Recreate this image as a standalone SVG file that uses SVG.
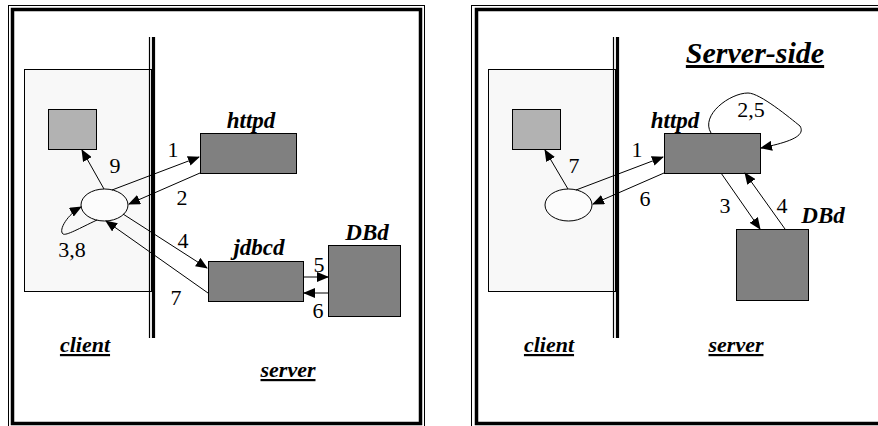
<svg xmlns="http://www.w3.org/2000/svg" width="878" height="426" viewBox="0 0 878 426">
<defs>
<marker id="ah" markerWidth="12" markerHeight="10" refX="11" refY="5" orient="auto" markerUnits="userSpaceOnUse">
<path d="M0,0 L12,5 L0,10 Z" fill="#000"/>
</marker>
<style>
.frameO{fill:none;stroke:#000;stroke-width:1}
.frameI{fill:none;stroke:#000;stroke-width:3.5}
.cl{fill:#f8f8f8;stroke:#000;stroke-width:1}
.sm{fill:#b2b2b2;stroke:#000;stroke-width:1}
.dk{fill:#808080;stroke:#000;stroke-width:1}
.el{fill:#fcfcfc;stroke:#000;stroke-width:1}
.ln{fill:none;stroke:#000;stroke-width:1;marker-end:url(#ah)}
text{font-family:'Liberation Serif','Times New Roman',serif;fill:#000}
.num{font-size:22px}
.lab{font-size:23px;font-weight:bold;font-style:italic}
.ul{font-size:22px;font-weight:bold;font-style:italic;text-decoration:underline}
.title{font-size:30px;font-weight:bold;font-style:italic;text-decoration:underline}
</style>
</defs>
<rect width="878" height="426" fill="#fff"/>

<!-- Left panel -->
<g id="left-frame">
<rect class="frameO" x="8.5" y="5.5" width="416" height="425"/>
<rect class="frameI" x="12.5" y="9.5" width="408" height="414"/>
</g>
<g id="left-client-area">
<rect class="cl" x="24.5" y="69.5" width="127" height="222"/>
</g>
<g id="left-divider">
<line x1="149.5" y1="37" x2="149.5" y2="338" stroke="#000" stroke-width="1.2"/>
<line x1="153.5" y1="37" x2="153.5" y2="338" stroke="#000" stroke-width="3.2"/>
</g>
<g id="left-display"><rect class="sm" x="48.5" y="109.5" width="48" height="40"/></g>
<g id="left-browser"><ellipse class="el" cx="104.5" cy="205" rx="23.5" ry="16"/></g>
<g id="left-httpd"><rect class="dk" x="200.5" y="133.5" width="96" height="40"/><text class="lab" x="251" y="128" text-anchor="middle">httpd</text></g>
<g id="left-jdbcd"><rect class="dk" x="208.5" y="261.5" width="95" height="40"/><text class="lab" x="259" y="255" text-anchor="middle">jdbcd</text></g>
<g id="left-dbd"><rect class="dk" x="328.5" y="245.5" width="72" height="71"/><text class="lab" x="367" y="240" text-anchor="middle">DBd</text></g>
<g id="left-labels">
<text class="ul" x="85" y="352" text-anchor="middle">client</text>
<text class="ul" x="288" y="377" text-anchor="middle">server</text>
</g>
<g id="left-connectors">
<line class="ln" x1="104" y1="189" x2="82" y2="150"/>
<line class="ln" x1="112" y1="190" x2="199" y2="157"/>
<line class="ln" x1="200" y1="173" x2="129" y2="204"/>
<line class="ln" x1="123" y1="214" x2="207" y2="268"/>
<line class="ln" x1="208" y1="293" x2="106" y2="221"/>
<path class="ln" d="M97,220 C80,228 66,236 63,234 C58,230 68,214 81,207"/>
<line class="ln" x1="304" y1="277" x2="328" y2="277"/>
<line class="ln" x1="328" y1="293" x2="304" y2="293"/>
<text class="num" x="115" y="173" text-anchor="middle">9</text>
<text class="num" x="173" y="157" text-anchor="middle">1</text>
<text class="num" x="182" y="205" text-anchor="middle">2</text>
<text class="num" x="183" y="248" text-anchor="middle">4</text>
<text class="num" x="176" y="305" text-anchor="middle">7</text>
<text class="num" x="72" y="257" text-anchor="middle">3,8</text>
<text class="num" x="319" y="272" text-anchor="middle">5</text>
<text class="num" x="318" y="318" text-anchor="middle">6</text>
</g>

<!-- Right panel -->
<g id="right-frame">
<rect class="frameO" x="471.5" y="5.5" width="420" height="425"/>
<rect class="frameI" x="476.5" y="9.5" width="410" height="414"/>
</g>
<g id="right-client-area">
<rect class="cl" x="488.5" y="69.5" width="127" height="222"/>
</g>
<g id="right-divider">
<line x1="613.5" y1="37" x2="613.5" y2="338" stroke="#000" stroke-width="1.2"/>
<line x1="617.5" y1="37" x2="617.5" y2="338" stroke="#000" stroke-width="3.2"/>
</g>
<g id="right-title"><text class="title" x="755" y="63" text-anchor="middle">Server-side</text></g>
<g id="right-display"><rect class="sm" x="512.5" y="109.5" width="48" height="40"/></g>
<g id="right-browser"><ellipse class="el" cx="568.5" cy="205" rx="23.5" ry="16"/></g>
<g id="right-httpd"><rect class="dk" x="664.5" y="133.5" width="96" height="40"/><text class="lab" x="675" y="128" text-anchor="middle">httpd</text></g>
<g id="right-dbd"><rect class="dk" x="736.5" y="229.5" width="72" height="71"/><text class="lab" x="823" y="223" text-anchor="middle">DBd</text></g>
<g id="right-labels">
<text class="ul" x="549" y="352" text-anchor="middle">client</text>
<text class="ul" x="736" y="352" text-anchor="middle">server</text>
</g>
<g id="right-connectors">
<line class="ln" x1="568" y1="189" x2="545" y2="150"/>
<line class="ln" x1="576" y1="190" x2="663" y2="157"/>
<line class="ln" x1="664" y1="173" x2="593" y2="204"/>
<line class="ln" x1="721" y1="173" x2="760" y2="229"/>
<line class="ln" x1="785" y1="229" x2="745" y2="173"/>
<path class="ln" d="M711,133 C700,115 730,93 748,93 C760,93 790,118 800,126 C806,136 790,142 761,148"/>
<text class="num" x="574" y="173" text-anchor="middle">7</text>
<text class="num" x="637" y="157" text-anchor="middle">1</text>
<text class="num" x="645" y="206" text-anchor="middle">6</text>
<text class="num" x="725" y="213" text-anchor="middle">3</text>
<text class="num" x="782" y="213" text-anchor="middle">4</text>
<text class="num" x="751" y="117" text-anchor="middle">2,5</text>
</g>
</svg>
